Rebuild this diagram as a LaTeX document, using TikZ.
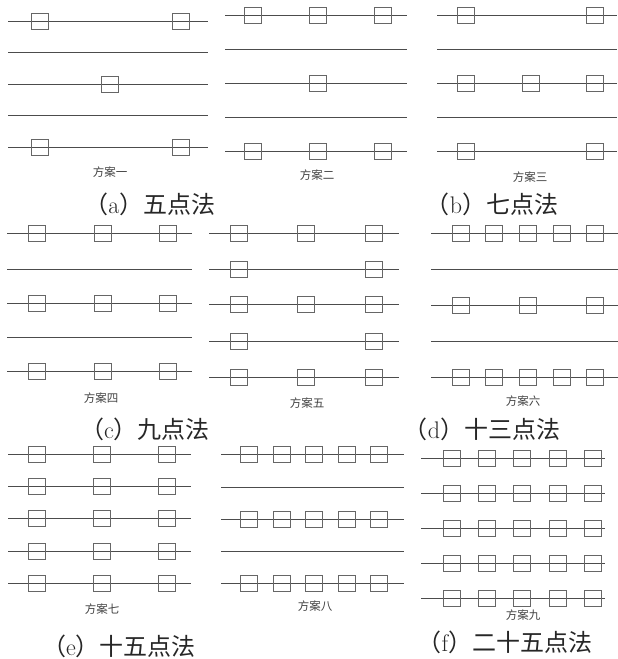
\documentclass[tikz,border=0pt]{standalone}
\usepackage{fontspec}
\newfontfamily\cjk{Noto Sans CJK SC}
\newcommand\myrow[5]{%
  \coordinate (#1l) at (#2,#4); \coordinate (#1r) at (#3,#4);
  \draw[rowline] (#1l) -- (#1r);
  \foreach \bx [count=\k] in {#5} { \node[ptbox] (#1b\k) at (\bx,#4) {}; }
}
\newcommand\myline[4]{%
  \coordinate (#1l) at (#2,#4); \coordinate (#1r) at (#3,#4);
  \draw[rowline] (#1l) -- (#1r);
}
\tikzset{
  rowline/.style={draw=black!70, line width=0.7pt},
  ptbox/.style={draw=black!60, line width=0.8pt, minimum width=17pt, minimum height=16pt, inner sep=0pt},
  plabel/.style={font=\cjk\fontsize{11.5}{13}\selectfont, text=black!75, inner sep=0pt},
  capnode/.style={font=\fontsize{24}{28}\selectfont, text=black!85, inner sep=0pt}
}
\begin{document}
\begin{tikzpicture}[x=1pt,y=-1pt]
\useasboundingbox (0,0) rectangle (618,659);
% panel 1
\myrow{p1r1}{8}{208}{21}{40,181}
\myline{p1r2}{8}{208}{52}
\myrow{p1r3}{8}{208}{84}{110}
\myline{p1r4}{8}{208}{115}
\myrow{p1r5}{8}{208}{147}{40,181}
\node[plabel] (l1) at (110,172) {方案一};
% panel 2
\myrow{p2r1}{225}{407}{15}{253,318,383}
\myline{p2r2}{225}{407}{49}
\myrow{p2r3}{225}{407}{83}{318}
\myline{p2r4}{225}{407}{117}
\myrow{p2r5}{225}{407}{151}{253,318,383}
\node[plabel] (l2) at (317,175) {方案二};
% panel 3
\myrow{p3r1}{437}{617}{15}{466,595}
\myline{p3r2}{437}{617}{49}
\myrow{p3r3}{437}{617}{83}{466,531,595}
\myline{p3r4}{437}{617}{117}
\myrow{p3r5}{437}{617}{151}{466,595}
\node[plabel] (l3) at (530,177) {方案三};
\node[capnode] (ca) at (150,204) {{\cjk （}a{\cjk ）五点法}};
\node[capnode] (cb) at (492,204) {{\cjk （}b{\cjk ）七点法}};
% panel 4
\myrow{p4r1}{7}{192}{233}{37,103,168}
\myline{p4r2}{7}{192}{269}
\myrow{p4r3}{7}{192}{303}{37,103,168}
\myline{p4r4}{7}{192}{337}
\myrow{p4r5}{7}{192}{371}{37,103,168}
\node[plabel] (l4) at (101,398) {方案四};
% panel 5
\myrow{p5r1}{209}{399}{233}{239,306,374}
\myrow{p5r2}{209}{399}{269}{239,374}
\myrow{p5r3}{209}{399}{304}{239,306,374}
\myrow{p5r4}{209}{399}{341}{239,374}
\myrow{p5r5}{209}{399}{377}{239,306,374}
\node[plabel] (l5) at (307,403) {方案五};
% panel 6
\myrow{p6r1}{431}{618}{233}{461,494,528,562,595}
\myline{p6r2}{431}{618}{269}
\myrow{p6r3}{431}{618}{305}{461,528,595}
\myline{p6r4}{431}{618}{341}
\myrow{p6r5}{431}{618}{377}{461,494,528,562,595}
\node[plabel] (l6) at (523,401) {方案六};
\node[capnode] (cc) at (145,429) {{\cjk （}c{\cjk ）九点法}};
\node[capnode] (cd) at (482,429) {{\cjk （}d{\cjk ）十三点法}};
% panel 7
\myrow{p7r1}{8}{191}{454}{37,102,167}
\myrow{p7r2}{8}{191}{486}{37,102,167}
\myrow{p7r3}{8}{191}{518}{37,102,167}
\myrow{p7r4}{8}{191}{551}{37,102,167}
\myrow{p7r5}{8}{191}{583}{37,102,167}
\node[plabel] (l7) at (102,609) {方案七};
% panel 8
\myrow{p8r1}{221}{404}{454}{249,282,314,347,379}
\myline{p8r2}{221}{404}{487}
\myrow{p8r3}{221}{404}{519}{249,282,314,347,379}
\myline{p8r4}{221}{404}{551}
\myrow{p8r5}{221}{404}{583}{249,282,314,347,379}
\node[plabel] (l8) at (315,606) {方案八};
% panel 9
\myrow{p9r1}{421}{605}{458}{452,487,522,558,593}
\myrow{p9r2}{421}{605}{493}{452,487,522,558,593}
\myrow{p9r3}{421}{605}{528}{452,487,522,558,593}
\myrow{p9r4}{421}{605}{563}{452,487,522,558,593}
\myrow{p9r5}{421}{605}{598}{452,487,522,558,593}
\node[plabel] (l9) at (523,615) {方案九};
\node[capnode] (ce) at (119,646) {{\cjk （}e{\cjk ）十五点法}};
\node[capnode] (cf) at (505,642) {{\cjk （}f{\cjk ）二十五点法}};
\end{tikzpicture}
\end{document}
